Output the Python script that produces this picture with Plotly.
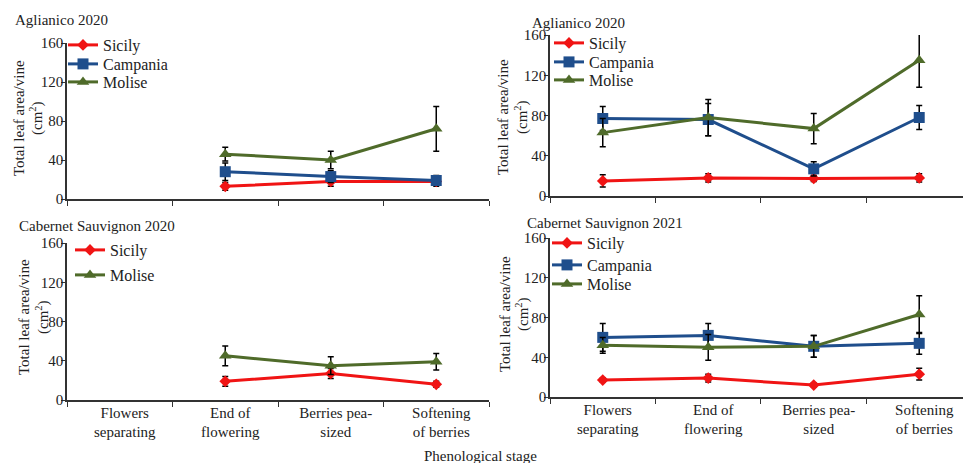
import plotly.graph_objects as go

# Phenological stages (x categories)
stages = ["Flowers<br>separating", "End of<br>flowering", "Berries pea-<br>sized", "Softening<br>of berries"]
y_ticks = [0, 40, 80, 120, 160]

# Aglianico 2020 (left panel)
agl20a_sicily = [None, 13, 18, 18]
agl20a_sicily_err = [0, 4, 5, 5]
agl20a_campania = [None, 28, 23, 19]
agl20a_campania_err = [0, 9, 6, 5]
agl20a_molise = [None, 46, 40, 72]
agl20a_molise_err = [0, 7, 9, 23]

# Aglianico 2020 (right panel)
agl20b_sicily = [15, 18, 17.5, 18]
agl20b_sicily_err = [6, 4, 3, 4]
agl20b_campania = [77, 76, 27, 78]
agl20b_campania_err = [12, 16, 7, 12]
agl20b_molise = [63, 78, 67, 135]
agl20b_molise_err = [14, 18, 15, 27]

# Cabernet Sauvignon 2020
cab20_sicily = [None, 19, 27, 16]
cab20_sicily_err = [0, 5, 5, 3]
cab20_molise = [None, 45, 35, 39]
cab20_molise_err = [0, 10, 9, 8.5]

# Cabernet Sauvignon 2021
cab21_sicily = [17, 19, 12, 23]
cab21_sicily_err = [2, 4, 2, 6]
cab21_campania = [60, 62, 51, 54]
cab21_campania_err = [14, 12, 11, 11]
cab21_molise = [52, 50, 51, 83]
cab21_molise_err = [8, 13, 11, 19]

W, H = 963, 463
FONT = "Liberation Serif"
TEXT_COLOR = "#222222"
AXIS_COLOR = "#333333"
STYLE = {
    "Sicily": dict(color="#f01414", symbol="diamond", size=9),
    "Campania": dict(color="#1f4e8c", symbol="square", size=11),
    "Molise": dict(color="#4f6b2a", symbol="triangle-up", size=11),
}


def px_x(x):
    return x / W


def px_y(y):
    return 1 - y / H


fig = go.Figure()

panels = [
    # axis suffix, series, x-pixels, y-pixels, x-range end, tick labels, legend left, legend item centres
    ("", [("Sicily", agl20a_sicily, agl20a_sicily_err),
          ("Campania", agl20a_campania, agl20a_campania_err),
          ("Molise", agl20a_molise, agl20a_molise_err)],
     (67, 489), (43, 199), 3.5, False, 63, [45, 64, 82]),
    ("2", [("Sicily", agl20b_sicily, agl20b_sicily_err),
           ("Campania", agl20b_campania, agl20b_campania_err),
           ("Molise", agl20b_molise, agl20b_molise_err)],
     (550, 963), (35, 196), 3.415, False, 549, [43, 62, 80]),
    ("3", [("Sicily", cab20_sicily, cab20_sicily_err),
           ("Molise", cab20_molise, cab20_molise_err)],
     (67, 489), (243, 400), 3.5, True, 70, [250, 275]),
    ("4", [("Sicily", cab21_sicily, cab21_sicily_err),
           ("Campania", cab21_campania, cab21_campania_err),
           ("Molise", cab21_molise, cab21_molise_err)],
     (550, 963), (238, 397), 3.415, True, 547, [243, 265, 284]),
]

legend_count = 0
for suffix, series, (x0, x1), (y0, y1), xend, show_labels, leg_x, leg_ys in panels:
    xa = "x" + suffix
    ya = "y" + suffix
    for (name, vals, errs), leg_y in zip(series, leg_ys):
        legend_count += 1
        lname = "legend" if legend_count == 1 else f"legend{legend_count}"
        st = STYLE[name]
        fig.add_trace(go.Scatter(
            x=stages, y=vals, name=name, mode="lines+markers",
            xaxis=xa, yaxis=ya, legend=lname,
            line=dict(color=st["color"], width=3),
            marker=dict(color=st["color"], symbol=st["symbol"], size=st["size"]),
            error_y=dict(type="data", array=errs, visible=True,
                         color="black", thickness=1.5, width=3),
            connectgaps=False,
        ))
        fig.layout[lname] = dict(
            x=px_x(leg_x), y=px_y(leg_y), xanchor="left", yanchor="middle",
            xref="paper", yref="paper", bgcolor="rgba(0,0,0,0)",
            font=dict(family=FONT, size=16, color=TEXT_COLOR),
        )
    fig.layout["xaxis" + suffix] = dict(
        domain=[px_x(x0), min(px_x(x1), 1.0)],
        anchor=ya, type="category",
        categoryorder="array", categoryarray=stages,
        range=[-0.5, xend],
        showline=True, linecolor=AXIS_COLOR, linewidth=1.5,
        ticks="outside", tickson="boundaries", ticklen=5, tickcolor=AXIS_COLOR,
        showticklabels=show_labels, ticklabelshift=5, ticklabelstandoff=-2,
        showgrid=False, zeroline=False,
        tickfont=dict(family=FONT, size=15, color=TEXT_COLOR),
        fixedrange=True,
    )
    fig.layout["yaxis" + suffix] = dict(
        domain=[px_y(y1), px_y(y0)],
        anchor=xa, range=[0, 160], tickvals=y_ticks,
        showline=True, linecolor=AXIS_COLOR, linewidth=1.5,
        ticks="outside", ticklen=4, tickcolor=AXIS_COLOR,
        ticklabelstandoff=-5,
        showgrid=False, zeroline=False,
        tickfont=dict(family=FONT, size=15, color=TEXT_COLOR),
        fixedrange=True,
    )

titles = [
    ("Aglianico 2020", 13, 20),
    ("Aglianico 2020", 530, 23),
    ("Cabernet Sauvignon 2020", 17, 226),
    ("Cabernet Sauvignon 2021", 525, 223),
]
for text, tx, ty in titles:
    fig.add_annotation(text=text, x=px_x(tx), y=px_y(ty), xref="paper", yref="paper",
                       xanchor="left", yanchor="middle", showarrow=False,
                       font=dict(family=FONT, size=15, color=TEXT_COLOR))

# Two-line y-axis titles: line centres (x1, x2) and vertical centre
for x_line1, x_line2, cy in [(19, 37, 118), (503, 521, 117), (24, 42, 317), (505, 522, 314)]:
    fig.add_annotation(text="Total leaf area/vine", x=px_x(x_line1), y=px_y(cy),
                       xref="paper", yref="paper", xanchor="center", yanchor="middle",
                       textangle=-90, showarrow=False,
                       font=dict(family=FONT, size=15, color=TEXT_COLOR))
    fig.add_annotation(text="(cm<sup>2</sup>)", x=px_x(x_line2), y=px_y(cy),
                       xref="paper", yref="paper", xanchor="center", yanchor="middle",
                       textangle=-90, showarrow=False,
                       font=dict(family=FONT, size=15, color=TEXT_COLOR))

fig.add_annotation(text="Phenological stage", x=px_x(480), y=px_y(456), xref="paper", yref="paper",
                   xanchor="center", yanchor="middle", showarrow=False,
                   font=dict(family=FONT, size=15, color=TEXT_COLOR))

fig.update_layout(
    width=W, height=H,
    margin=dict(l=0, r=0, t=0, b=0, autoexpand=False),
    paper_bgcolor="white", plot_bgcolor="white",
    showlegend=True,
)

fig.write_html("out.html")
